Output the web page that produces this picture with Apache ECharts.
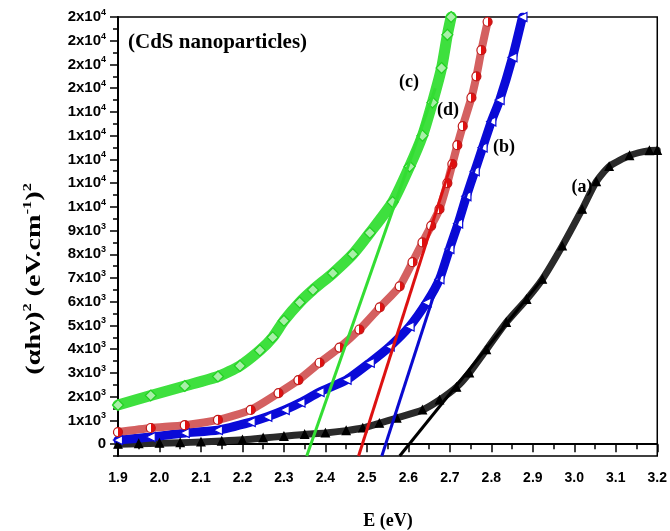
<!DOCTYPE html>
<html><head><meta charset="utf-8">
<script src="https://cdn.jsdelivr.net/npm/echarts@6/dist/echarts.min.js"></script>
<style>html,body{margin:0;padding:0;background:#fff}#c{width:670px;height:531px}</style>
</head><body><div id="c"></div>
<script>
// ---- data ----
const energyA = [1.90,1.95,2.00,2.05,2.10,2.15,2.20,2.25,2.30,2.35,2.40,2.45,2.49,2.53,2.572,2.634,2.675,2.716,2.747,2.788,2.836,2.885,2.923,2.971,3.019,3.053,3.084,3.133,3.181,3.20];
const valueA  = [0,20,40,60,90,130,180,260,330,410,470,570,680,880,1100,1440,1860,2400,3000,3980,5130,6100,6950,8350,9900,11060,11700,12160,12370,12380];
const energyB = [1.90,1.979,2.061,2.141,2.22,2.26,2.302,2.34,2.386,2.451,2.507,2.555,2.603,2.644,2.675,2.699,2.72,2.74,2.76,2.779,2.80,2.82,2.851,2.875];
const valueB  = [170,300,470,590,930,1150,1440,1750,2200,2710,3430,4110,4960,5970,6950,8220,9300,10450,11500,12500,13600,14500,16300,18000];
const energyC = [1.90,1.979,2.061,2.141,2.194,2.242,2.273,2.30,2.338,2.37,2.418,2.466,2.507,2.562,2.603,2.634,2.658,2.68,2.694,2.703];
const valueC  = [1650,2050,2450,2850,3300,3950,4500,5200,5970,6500,7200,8000,8900,10200,11700,13000,14400,15850,17250,18000];
const energyD = [1.90,1.979,2.061,2.141,2.22,2.287,2.335,2.386,2.434,2.482,2.531,2.579,2.61,2.634,2.655,2.675,2.694,2.706,2.718,2.731,2.752,2.764,2.776,2.791];
const valueD  = [510,680,800,1020,1440,2150,2700,3430,4070,4830,5760,6650,7670,8500,9200,9900,11000,11800,12600,13400,14600,15500,16600,17800];
// linear fits (endpoints)
const fitEnergyA = [2.579, 2.925]; const fitValueA = [-500, 7000];
const fitEnergyB = [2.536, 2.804]; const fitValueB = [-500, 14000];
const fitEnergyC = [2.355, 2.665]; const fitValueC = [-500, 15000];
const fitEnergyD = [2.480, 2.707]; const fitValueD = [-500, 12000];
// tick labels
const xTickValues = [1.9,2.0,2.1,2.2,2.3,2.4,2.5,2.6,2.7,2.8,2.9,3.0,3.1,3.2];
const xTickLabels = ['1.9','2.0','2.1','2.2','2.3','2.4','2.5','2.6','2.7','2.8','2.9','3.0','3.1','3.2'];
const yTickValues   = [0,1000,2000,3000,4000,5000,6000,7000,8000,9000,10000,11000,12000,13000,14000,15000,16000,17000,18000];
const yTickMantissa = ['0','1','2','3','4','5','6','7','8','9','1','1','1','1','1','2','2','2','2'];
const yTickExponent = ['','3','3','3','3','3','3','3','3','3','4','4','4','4','4','4','4','4','4'];
const yMinorTickValues = [-500,500,1500,2500,3500,4500,5500,6500,7500,8500,9500,10500,11500,12500,13500,14500,15500,16500,17500];
const curveLabels = ['(a)','(b)','(c)','(d)'];

const pairs = (e, v) => e.map((x, i) => [x, v[i]]);
const chart = echarts.init(document.getElementById('c'), null, {renderer: 'canvas'});
const sans = 'Liberation Sans, Arial, sans-serif';
const serif = 'Liberation Serif, Times New Roman, serif';

function dataSeries(e, v, lineColor, lw, symbol, size, fill, border, rot) {
  return {type: 'line', data: pairs(e, v), smooth: 0.2, showAllSymbol: true,
    symbol: symbol, symbolSize: size, symbolRotate: rot || 0,
    lineStyle: {color: lineColor, width: lw, cap: 'round', join: 'round'},
    itemStyle: {color: fill, borderColor: border, borderWidth: 1.2},
    z: 2, silent: true, animation: false};
}
function fitSeries(e, v, color) {
  return {type: 'line', data: pairs(e, v), symbol: 'none', lineStyle: {color: color, width: 3},
    z: 4, silent: true, animation: false};
}
const halfRed = {type: 'linear', x: 0, y: 0, x2: 1, y2: 0, colorStops: [
  {offset: 0, color: '#ffffff'}, {offset: 0.5, color: '#ffffff'}, {offset: 0.5, color: '#e01010'}, {offset: 1, color: '#e01010'}]};
const centred = {align: 'center', verticalAlign: 'middle', textAlign: 'center', textVerticalAlign: 'middle', fill: '#000'};

const option = {
  backgroundColor: '#fff',
  animation: false,
  grid: {left: 118, right: 12, top: 17, bottom: 75, show: true, borderColor: '#000', borderWidth: 1.5},
  xAxis: {type: 'value', min: 1.9, max: 3.2, interval: 0.1,
    axisLine: {show: true, lineStyle: {color: '#000', width: 2}},
    axisTick: {show: true, length: 8, lineStyle: {color: '#000', width: 1.5}},
    minorTick: {show: true, splitNumber: 2, length: 5, lineStyle: {color: '#000', width: 1.5}},
    splitLine: {show: false}, minorSplitLine: {show: false},
    axisLabel: {color: '#000', fontSize: 14, fontWeight: 'bold', fontFamily: sans, margin: 15,
      formatter: v => { const i = xTickValues.findIndex(t => Math.abs(t - v) < 1e-6); return i >= 0 ? xTickLabels[i] : ''; }}},
  yAxis: [{type: 'value', min: -500, max: 18000,
    axisLine: {show: true, lineStyle: {color: '#000', width: 2}},
    axisTick: {show: true, length: 8, customValues: yTickValues, lineStyle: {color: '#000', width: 1.5}},
    splitLine: {show: false},
    axisLabel: {customValues: yTickValues, margin: 12, color: '#000',
      formatter: v => { const i = yTickValues.indexOf(v); if (i < 0) return '';
        return yTickExponent[i] ? '{m|' + yTickMantissa[i] + 'x10}{e|' + yTickExponent[i] + '}' : '{m|' + yTickMantissa[i] + '}'; },
      rich: {m: {fontSize: 15, fontWeight: 'bold', fontFamily: sans, color: '#000', lineHeight: 18, verticalAlign: 'middle'},
             e: {fontSize: 9, fontWeight: 'bold', fontFamily: sans, color: '#000', lineHeight: 10, verticalAlign: 'top'}}}},
    {type: 'value', min: -500, max: 18000, position: 'left', offset: 0,
    axisLine: {show: false}, splitLine: {show: false}, axisLabel: {show: false},
    axisTick: {show: true, length: 5, customValues: yMinorTickValues, lineStyle: {color: '#000', width: 1.5}}}],
  series: [
    dataSeries(energyA, valueA, '#2a2a2a', 7, 'triangle', 8, '#000', '#000'),
    dataSeries(energyB, valueB, '#0a0ad8', 9, 'triangle', 9, '#ffffff', '#0a0ad8', 90),
    dataSeries(energyC, valueC, '#3ee03e', 11, 'diamond', 11, '#a8f0a8', '#22d022'),
    dataSeries(energyD, valueD, '#d46060', 8, 'circle', 9, halfRed, '#c01818'),
    fitSeries(fitEnergyA, fitValueA, '#000000'),
    fitSeries(fitEnergyB, fitValueB, '#0a0ad0'),
    fitSeries(fitEnergyC, fitValueC, '#33dd33'),
    fitSeries(fitEnergyD, fitValueD, '#dd1111')
  ],
  graphic: [
    {type: 'text', x: 128, y: 43, z: 10, style: {text: '(CdS nanoparticles)', font: 'bold 21px ' + serif, fill: '#000', align: 'left', verticalAlign: 'middle', textAlign: 'left', textVerticalAlign: 'middle'}},
    {type: 'text', x: 582, y: 187, z: 10, style: Object.assign({text: curveLabels[0], font: 'bold 18px ' + serif}, centred)},
    {type: 'text', x: 504, y: 147, z: 10, style: Object.assign({text: curveLabels[1], font: 'bold 18px ' + serif}, centred)},
    {type: 'text', x: 409, y: 82, z: 10, style: Object.assign({text: curveLabels[2], font: 'bold 18px ' + serif}, centred)},
    {type: 'text', x: 448, y: 110, z: 10, style: Object.assign({text: curveLabels[3], font: 'bold 18px ' + serif}, centred)},
    {type: 'text', x: 388, y: 521, z: 10, style: Object.assign({text: 'E (eV)', font: 'bold 18px ' + serif}, centred)},
    {type: 'text', x: 35, y: 279, rotation: Math.PI / 2, scaleX: 1.35, z: 10, style: {
      text: '{n|(αhν)}{s|2}{n| (eV.cm}{s|-1}{n|)}{s|2}', align: 'center', verticalAlign: 'middle', textAlign: 'center', textVerticalAlign: 'middle',
      rich: {n: {fontSize: 21, fontWeight: 'bold', fontFamily: serif, fill: '#000', color: '#000', lineHeight: 26, verticalAlign: 'middle'},
             s: {fontSize: 12, fontWeight: 'bold', fontFamily: serif, fill: '#000', color: '#000', lineHeight: 12, verticalAlign: 'top'}}}}
  ]
};
chart.setOption(option);
</script>
</body></html>
